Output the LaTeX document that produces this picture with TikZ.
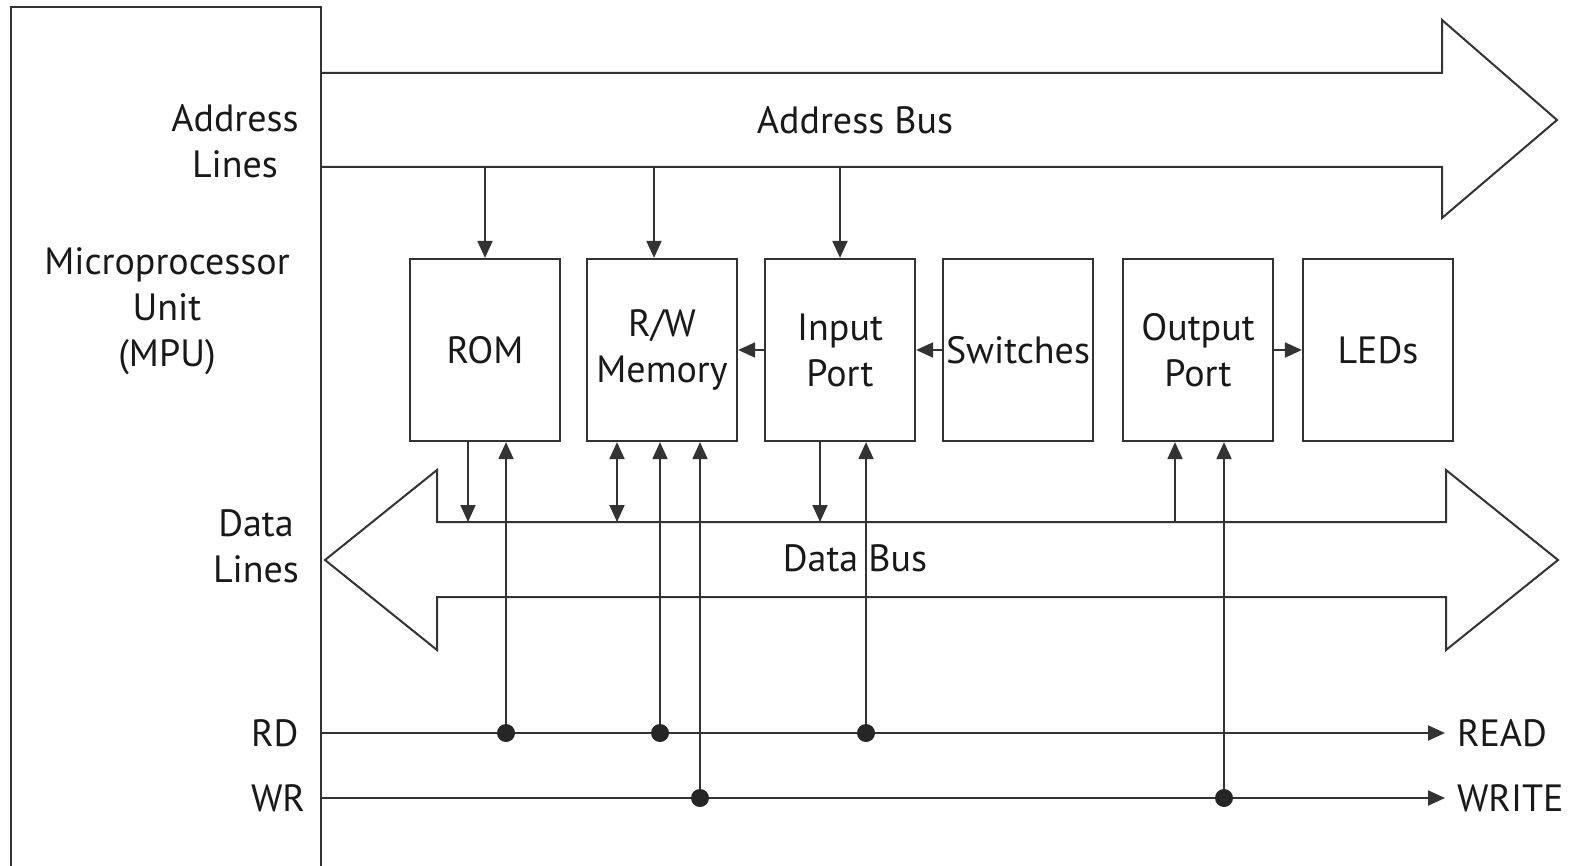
\documentclass[tikz,border=0pt]{standalone}
\usepackage{fontspec}
\setmainfont{PT Sans}
\usetikzlibrary{arrows.meta,calc}
\tikzset{>={Triangle[length=17pt,width=15pt]}}
\tikzset{
  unitbox/.style={draw,line width=2.2pt,minimum width=150pt,minimum height=182pt,align=center,inner sep=0pt},
  lbl/.style={align=center,inner sep=0pt},
  sig/.style={anchor=west,inner sep=0pt},
}

\begin{document}
\begin{tikzpicture}[x=1pt,y=-1pt,font=\fontsize{38}{46}\selectfont,line width=2pt,draw=black!80,text=black!90]
	\useasboundingbox (0,0) rectangle (1573,866);
	% MPU
	\draw (11,866) -- (11,7) -- (321,7) -- (321,866);
	\node[lbl] (addrlbl) at (235,141) {Address\\Lines};
	\node[lbl] (mpulbl) at (167,311) {Microprocessor\\Unit\\(MPU)};
	\node[lbl] (datalbl) at (256,546) {Data\\Lines};
	\node[sig] (rdlbl) at (250,733) {RD};
	\node[sig] (wrlbl) at (250,798) {WR};
	
	% buses
	\draw (322,73) -- (1442,73) -- (1442,20) -- (1557,120) -- (1442,218) -- (1442,167) -- (322,167);
	\draw (437,522) -- (437,470) -- (325,560) -- (437,650) -- (437,597) -- (1446,597) -- (1446,650) -- (1558,560) -- (1446,470) -- (1446,522) -- cycle;
	\node (abuslbl) at (855,120) {Address Bus};
	\node (dbuslbl) at (855,558) {Data Bus};
	\coordinate (abus) at (0,167);
	\coordinate (dbus) at (0,522);
	
	% units
	\node[unitbox] (rom) at (485,350) {ROM};
	\node[unitbox] (rw) at (662,350) {R/W\\Memory};
	\node[unitbox] (inport) at (840,350) {Input\\Port};
	\node[unitbox] (sw) at (1018,350) {Switches};
	\node[unitbox] (outport) at (1198,350) {Output\\Port};
	\node[unitbox] (leds) at (1378,350) {LEDs};
	
	\draw[->] (inport.west) -- (rw.east);
	\draw[->] (sw.west) -- (inport.east);
	\draw[->] (outport.east) -- (leds.west);
	
	% address lines
	\draw[->] (rom.north |- abus) -- (rom.north);
	\draw[->] ([xshift=-8pt]rw.north |- abus) -- ([xshift=-8pt]rw.north);
	\draw[->] (inport.north |- abus) -- (inport.north);
	
	% data lines
	\draw[->] ([xshift=-17pt]rom.south) -- ([xshift=-17pt]rom.south |- dbus);
	\draw[<->] ([xshift=-45pt]rw.south) -- ([xshift=-45pt]rw.south |- dbus);
	\draw[->] ([xshift=-20pt]inport.south) -- ([xshift=-20pt]inport.south |- dbus);
	\draw[->] ([xshift=-23pt]outport.south |- dbus) -- ([xshift=-23pt]outport.south);
	
	% control lines
	\node[sig] (read) at (1456,733) {READ};
	\node[sig] (write) at (1456,798) {WRITE};
	\coordinate (rd0) at (321,733);
	\coordinate (wr0) at (321,798);
	\draw[->] (rd0) -- ([xshift=-11pt]read.west);
	\draw[->] (wr0) -- ([xshift=-11pt]write.west);
	
	\coordinate (rdrom) at (506,733);
	\coordinate (rdrw) at (660,733);
	\coordinate (rdin) at (866,733);
	\coordinate (wrrw) at (700,798);
	\coordinate (wrout) at (1224,798);
	\draw[->] (rdrom) -- (rdrom |- rom.south);
	\draw[->] (rdrw) -- (rdrw |- rw.south);
	\draw[->] (wrrw) -- (wrrw |- rw.south);
	\draw[->] (rdin) -- (rdin |- inport.south);
	\draw[->] (wrout) -- (wrout |- outport.south);
	\foreach \p in {rdrom,rdrw,rdin,wrrw,wrout}
	{
		\fill[black!85] (\p) circle[radius=9pt];
	}
\end{tikzpicture}
\end{document}
